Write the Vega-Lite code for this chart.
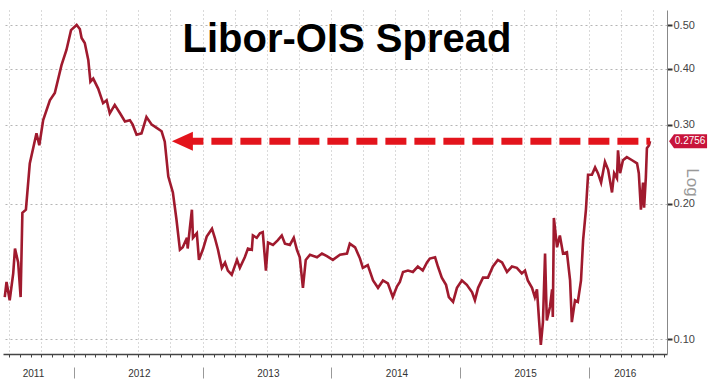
{
  "$schema": "https://vega.github.io/schema/vega-lite/v6.json",
  "width": 664,
  "height": 344,
  "autosize": "none",
  "padding": {"left": 3, "top": 10, "right": 42, "bottom": 34},
  "background": "white",
  "config": {"view": {"stroke": null}},
  "title": {
    "text": "Libor-OIS Spread",
    "orient": "none",
    "anchor": "middle",
    "align": "center",
    "baseline": "alphabetic",
    "dx": 344,
    "dy": 42,
    "font": "Liberation Sans",
    "fontSize": 40,
    "fontWeight": "bold",
    "color": "#000000"
  },
  "datasets": {
    "libor": [
      {"date": "2011-06-19", "v": 0.124}, {"date": "2011-06-24", "v": 0.134}, {"date": "2011-07-03", "v": 0.122},
      {"date": "2011-07-13", "v": 0.140}, {"date": "2011-07-18", "v": 0.159}, {"date": "2011-07-27", "v": 0.148},
      {"date": "2011-08-03", "v": 0.124}, {"date": "2011-08-08", "v": 0.191}, {"date": "2011-08-18", "v": 0.194},
      {"date": "2011-08-29", "v": 0.246}, {"date": "2011-09-17", "v": 0.287}, {"date": "2011-09-25", "v": 0.270},
      {"date": "2011-10-06", "v": 0.307}, {"date": "2011-10-25", "v": 0.340}, {"date": "2011-11-08", "v": 0.353},
      {"date": "2011-11-27", "v": 0.407}, {"date": "2011-12-11", "v": 0.440}, {"date": "2011-12-24", "v": 0.487},
      {"date": "2012-01-09", "v": 0.500}, {"date": "2012-01-18", "v": 0.490}, {"date": "2012-01-23", "v": 0.468},
      {"date": "2012-02-01", "v": 0.456}, {"date": "2012-02-11", "v": 0.418}, {"date": "2012-02-17", "v": 0.374},
      {"date": "2012-02-25", "v": 0.380}, {"date": "2012-03-10", "v": 0.361}, {"date": "2012-03-24", "v": 0.335},
      {"date": "2012-04-03", "v": 0.340}, {"date": "2012-04-12", "v": 0.318}, {"date": "2012-04-26", "v": 0.332},
      {"date": "2012-05-11", "v": 0.318}, {"date": "2012-05-25", "v": 0.305}, {"date": "2012-06-08", "v": 0.307},
      {"date": "2012-06-16", "v": 0.300}, {"date": "2012-06-27", "v": 0.285}, {"date": "2012-07-11", "v": 0.287},
      {"date": "2012-07-25", "v": 0.312}, {"date": "2012-08-09", "v": 0.300}, {"date": "2012-08-23", "v": 0.295},
      {"date": "2012-09-06", "v": 0.290}, {"date": "2012-09-15", "v": 0.275}, {"date": "2012-09-25", "v": 0.230},
      {"date": "2012-10-08", "v": 0.212}, {"date": "2012-10-18", "v": 0.185}, {"date": "2012-10-28", "v": 0.158},
      {"date": "2012-11-05", "v": 0.160}, {"date": "2012-11-17", "v": 0.168}, {"date": "2012-11-19", "v": 0.159},
      {"date": "2012-11-25", "v": 0.176}, {"date": "2012-12-01", "v": 0.194}, {"date": "2012-12-04", "v": 0.168},
      {"date": "2012-12-15", "v": 0.172}, {"date": "2012-12-21", "v": 0.150}, {"date": "2013-01-02", "v": 0.159},
      {"date": "2013-01-12", "v": 0.169}, {"date": "2013-01-27", "v": 0.176}, {"date": "2013-02-04", "v": 0.168},
      {"date": "2013-02-13", "v": 0.158}, {"date": "2013-02-24", "v": 0.144}, {"date": "2013-03-05", "v": 0.148},
      {"date": "2013-03-13", "v": 0.142}, {"date": "2013-03-24", "v": 0.139}, {"date": "2013-04-08", "v": 0.150},
      {"date": "2013-04-16", "v": 0.144}, {"date": "2013-04-30", "v": 0.152}, {"date": "2013-05-09", "v": 0.159},
      {"date": "2013-05-20", "v": 0.158}, {"date": "2013-05-23", "v": 0.170}, {"date": "2013-06-03", "v": 0.168},
      {"date": "2013-06-12", "v": 0.172}, {"date": "2013-06-20", "v": 0.173}, {"date": "2013-06-29", "v": 0.142},
      {"date": "2013-07-05", "v": 0.164}, {"date": "2013-07-19", "v": 0.162}, {"date": "2013-08-02", "v": 0.166},
      {"date": "2013-08-13", "v": 0.170}, {"date": "2013-08-22", "v": 0.163}, {"date": "2013-09-05", "v": 0.162},
      {"date": "2013-09-16", "v": 0.168}, {"date": "2013-09-25", "v": 0.158}, {"date": "2013-10-03", "v": 0.152},
      {"date": "2013-10-12", "v": 0.130}, {"date": "2013-10-20", "v": 0.150}, {"date": "2013-11-01", "v": 0.154},
      {"date": "2013-11-21", "v": 0.152}, {"date": "2013-12-05", "v": 0.155}, {"date": "2013-12-19", "v": 0.153},
      {"date": "2014-01-05", "v": 0.150}, {"date": "2014-01-25", "v": 0.154}, {"date": "2014-02-14", "v": 0.155},
      {"date": "2014-02-22", "v": 0.163}, {"date": "2014-03-09", "v": 0.160}, {"date": "2014-03-23", "v": 0.151},
      {"date": "2014-03-31", "v": 0.144}, {"date": "2014-04-14", "v": 0.146}, {"date": "2014-04-29", "v": 0.135},
      {"date": "2014-05-13", "v": 0.130}, {"date": "2014-05-27", "v": 0.135}, {"date": "2014-06-10", "v": 0.133},
      {"date": "2014-06-24", "v": 0.124}, {"date": "2014-07-06", "v": 0.131}, {"date": "2014-07-14", "v": 0.134},
      {"date": "2014-07-23", "v": 0.141}, {"date": "2014-08-06", "v": 0.142}, {"date": "2014-08-20", "v": 0.141},
      {"date": "2014-09-03", "v": 0.145}, {"date": "2014-09-17", "v": 0.142}, {"date": "2014-09-29", "v": 0.148},
      {"date": "2014-10-07", "v": 0.151}, {"date": "2014-10-22", "v": 0.152}, {"date": "2014-10-30", "v": 0.145},
      {"date": "2014-11-10", "v": 0.137}, {"date": "2014-11-22", "v": 0.132}, {"date": "2014-11-30", "v": 0.124},
      {"date": "2014-12-12", "v": 0.121}, {"date": "2014-12-23", "v": 0.130}, {"date": "2015-01-06", "v": 0.135},
      {"date": "2015-01-20", "v": 0.132}, {"date": "2015-02-04", "v": 0.127}, {"date": "2015-02-12", "v": 0.122},
      {"date": "2015-02-21", "v": 0.130}, {"date": "2015-03-07", "v": 0.137}, {"date": "2015-03-21", "v": 0.137},
      {"date": "2015-04-04", "v": 0.145}, {"date": "2015-04-18", "v": 0.150}, {"date": "2015-04-30", "v": 0.148},
      {"date": "2015-05-14", "v": 0.141}, {"date": "2015-05-28", "v": 0.145}, {"date": "2015-06-11", "v": 0.144},
      {"date": "2015-06-25", "v": 0.140}, {"date": "2015-07-04", "v": 0.142}, {"date": "2015-07-12", "v": 0.135},
      {"date": "2015-07-24", "v": 0.130}, {"date": "2015-08-01", "v": 0.124}, {"date": "2015-08-07", "v": 0.129},
      {"date": "2015-08-13", "v": 0.110}, {"date": "2015-08-18", "v": 0.097}, {"date": "2015-08-24", "v": 0.109},
      {"date": "2015-08-30", "v": 0.155}, {"date": "2015-09-04", "v": 0.110}, {"date": "2015-09-13", "v": 0.118},
      {"date": "2015-09-19", "v": 0.129}, {"date": "2015-09-21", "v": 0.112}, {"date": "2015-09-24", "v": 0.186},
      {"date": "2015-10-03", "v": 0.160}, {"date": "2015-10-11", "v": 0.170}, {"date": "2015-10-20", "v": 0.155},
      {"date": "2015-10-31", "v": 0.156}, {"date": "2015-11-09", "v": 0.135}, {"date": "2015-11-14", "v": 0.109},
      {"date": "2015-11-23", "v": 0.122}, {"date": "2015-12-01", "v": 0.121}, {"date": "2015-12-10", "v": 0.135},
      {"date": "2015-12-16", "v": 0.166}, {"date": "2015-12-24", "v": 0.194}, {"date": "2015-12-30", "v": 0.232},
      {"date": "2016-01-10", "v": 0.232}, {"date": "2016-01-19", "v": 0.241}, {"date": "2016-01-27", "v": 0.234},
      {"date": "2016-02-05", "v": 0.223}, {"date": "2016-02-16", "v": 0.248}, {"date": "2016-02-25", "v": 0.238},
      {"date": "2016-03-07", "v": 0.212}, {"date": "2016-03-13", "v": 0.234}, {"date": "2016-03-21", "v": 0.228},
      {"date": "2016-03-24", "v": 0.263}, {"date": "2016-03-30", "v": 0.234}, {"date": "2016-04-07", "v": 0.250},
      {"date": "2016-04-18", "v": 0.254}, {"date": "2016-05-03", "v": 0.250}, {"date": "2016-05-17", "v": 0.246},
      {"date": "2016-05-22", "v": 0.234}, {"date": "2016-05-28", "v": 0.194}, {"date": "2016-06-03", "v": 0.223},
      {"date": "2016-06-06", "v": 0.196}, {"date": "2016-06-11", "v": 0.229}, {"date": "2016-06-14", "v": 0.266},
      {"date": "2016-06-20", "v": 0.270}, {"date": "2016-06-23", "v": 0.2756}
    ],
    "arrow": [
      {"start": "2012-11-04", "end": "2016-06-23", "v": 0.2756}
    ]
  },
  "resolve": {"axis": {"x": "independent"}},
  "layer": [
    {
      "data": {"name": "libor"},
      "mark": {"type": "line", "color": "#a01a2e", "strokeWidth": 2.6, "strokeJoin": "miter"},
      "encoding": {
        "x": {
          "field": "date",
          "type": "temporal",
          "scale": {
            "domain": [{"year": 2011, "month": "jun", "date": 14}, {"year": 2016, "month": "aug", "date": 10}]
          },
          "axis": {
            "orient": "bottom",
            "title": null,
            "labels": false,
            "tickCount": {"interval": "month", "step": 1},
            "tickSize": 3,
            "tickColor": "#444",
            "domainColor": "#444",
            "domainWidth": 1.5,
            "grid": true,
            "gridColor": "#b5b5b5",
            "gridDash": [1, 3],
            "gridOpacity": {"condition": {"test": "month(datum.value) % 3 == 0", "value": 1}, "value": 0}
          }
        },
        "y": {
          "field": "v",
          "type": "quantitative",
          "scale": {"type": "log", "domain": [0.0926, 0.54], "nice": false, "zero": false},
          "axis": {
            "orient": "right",
            "values": [0.1, 0.2, 0.3, 0.4, 0.5],
            "format": ".2f",
            "grid": true,
            "gridColor": "#b5b5b5",
            "gridDash": [2, 3],
            "domainColor": "#888",
            "tickColor": "#333",
            "tickSize": 5,
            "tickWidth": 2,
            "labelFont": "Liberation Sans",
            "labelFontSize": 11,
            "labelColor": "#444",
            "labelPadding": 1,
            "title": "Log",
            "titleFont": "Liberation Sans",
            "titleFontSize": 17,
            "titleFontWeight": "normal",
            "titleColor": "#999",
            "titleAngle": 90,
            "titleX": 24,
            "titleY": 172,
            "titleAlign": "center",
            "titleBaseline": "middle"
          }
        }
      }
    },
    {
      "data": {"name": "arrow"},
      "mark": {"type": "rule", "color": "#e3141c", "strokeWidth": 7, "strokeDash": [21, 8], "strokeCap": "butt"},
      "encoding": {
        "x": {
          "field": "start",
          "type": "temporal",
          "axis": {
            "orient": "bottom",
            "title": null,
            "offset": 13,
            "domain": false,
            "grid": false,
            "values": [
              {"year": 2011, "month": "jun", "date": 14},
              {"year": 2012, "month": "jan", "date": 1},
              {"year": 2013, "month": "jan", "date": 1},
              {"year": 2014, "month": "jan", "date": 1},
              {"year": 2015, "month": "jan", "date": 1},
              {"year": 2016, "month": "jan", "date": 1}
            ],
            "format": "%Y",
            "tickSize": 11,
            "tickColor": "#999",
            "tickOpacity": {"condition": {"test": "year(datum.value) == 2011", "value": 0}, "value": 1},
            "labelPadding": -10,
            "labelFont": "Liberation Sans",
            "labelFontSize": 10,
            "labelColor": "#333",
            "labelFlush": false,
            "labelOverlap": false,
            "labelOffset": {
              "condition": [
                {"test": "year(datum.value) == 2011", "value": 30},
                {"test": "year(datum.value) == 2016", "value": 36}
              ],
              "value": 65
            }
          }
        },
        "x2": {"field": "end"},
        "y": {"field": "v", "type": "quantitative"}
      }
    },
    {
      "data": {"name": "arrow"},
      "mark": {"type": "point", "shape": "M-1,0L1,-0.9L1,0.9Z", "size": 441, "filled": true, "color": "#e3141c", "opacity": 1},
      "encoding": {
        "x": {"field": "start", "type": "temporal", "axis": null},
        "y": {"field": "v", "type": "quantitative"}
      }
    },
    {
      "data": {"name": "arrow"},
      "mark": {"type": "point", "shape": "M-1,0L-0.74,-0.37L1,-0.37L1,0.37L-0.74,0.37Z", "size": 1444, "filled": true, "color": "#c8143b", "opacity": 1, "xOffset": 38},
      "encoding": {
        "x": {"field": "end", "type": "temporal", "axis": null},
        "y": {"field": "v", "type": "quantitative"}
      }
    },
    {
      "data": {"name": "arrow"},
      "mark": {"type": "text", "color": "white", "font": "Liberation Sans", "fontSize": 10, "xOffset": 40, "align": "center", "baseline": "middle"},
      "encoding": {
        "x": {"field": "end", "type": "temporal", "axis": null},
        "y": {"field": "v", "type": "quantitative"},
        "text": {"field": "v", "type": "quantitative", "format": ".4f"}
      }
    }
  ]
}
